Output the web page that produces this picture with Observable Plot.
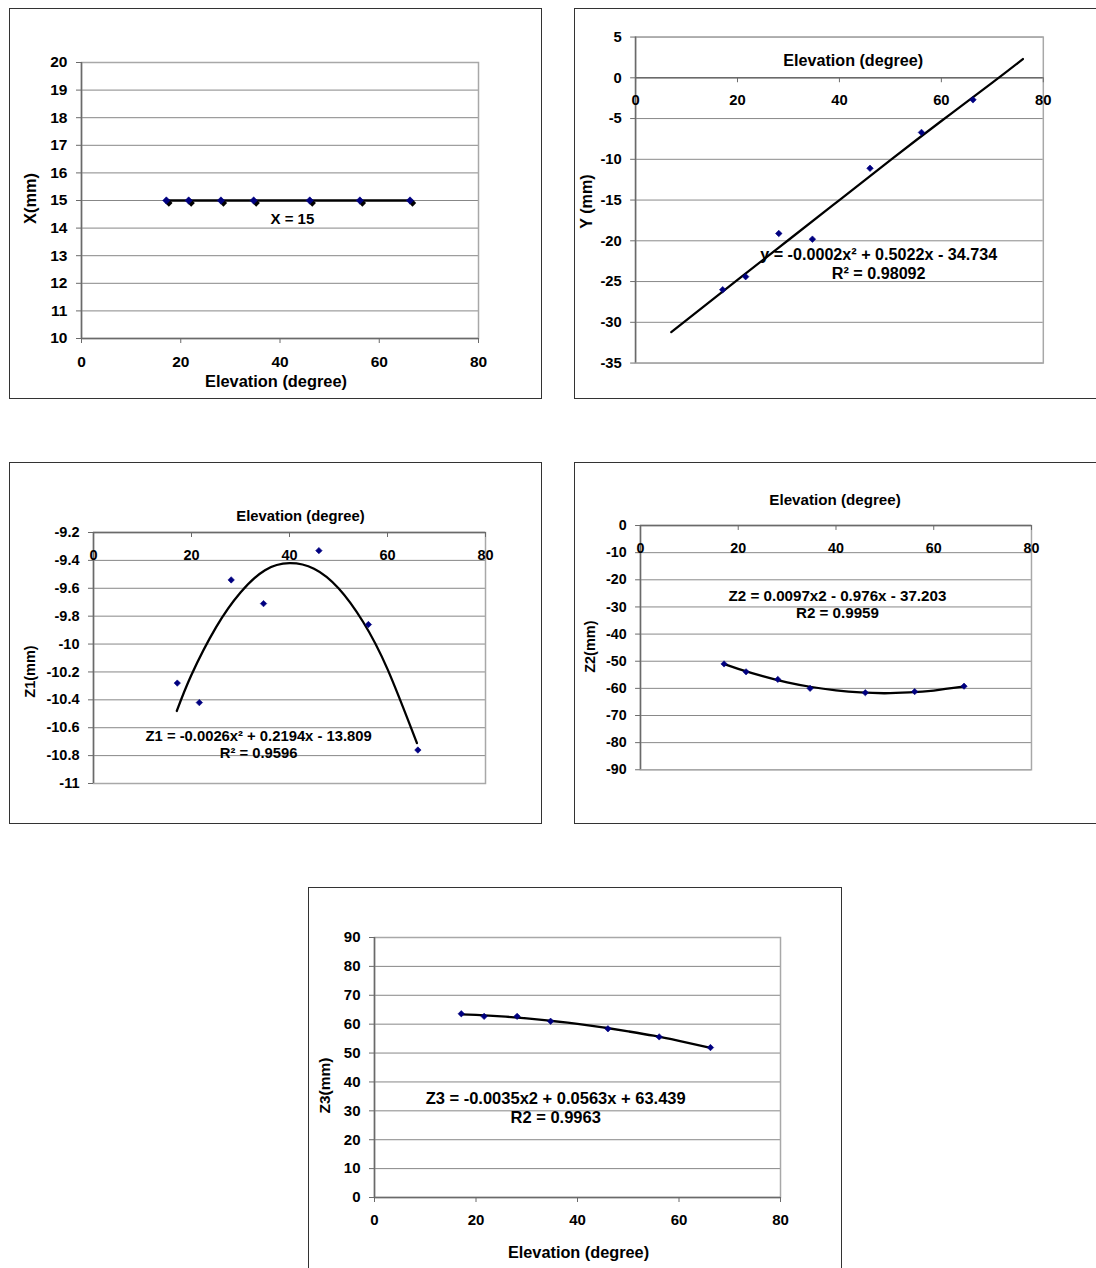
<!DOCTYPE html>
<html>
<head>
<meta charset="utf-8">
<script src="https://cdn.jsdelivr.net/npm/d3@7"></script>
<script src="https://cdn.jsdelivr.net/npm/@observablehq/plot@0.6"></script>
<style>
  html, body { margin: 0; padding: 0; background: #fff; overflow: hidden; width: 1096px; height: 1268px; }
  .panel { position: absolute; }
  .panel svg { display: block; }
  .box { position: absolute; border: 1px solid #333; box-sizing: border-box; pointer-events: none; }
</style>
</head>
<body>
<script>
// ---------- data ----------
const elevation = [17.1, 21.6, 28.1, 34.7, 46.0, 56.1, 66.2];
const xMM  = [15, 15, 15, 15, 15, 15, 15];
const yMM  = [-26.0, -24.4, -19.1, -19.8, -11.1, -6.7, -2.7];
const z1MM = [-10.28, -10.42, -9.54, -9.71, -9.33, -9.86, -10.76];
const z2MM = [-51.0, -53.9, -56.7, -60.0, -61.6, -61.2, -59.2];
const z3MM = [63.6, 62.7, 62.7, 61.0, 58.4, 55.6, 51.9];

// trend lines
const xTrendElev  = [17.1, 66.2];
const xTrendVal   = [15, 15];
const yTrendElev  = [7, 20, 30, 40, 50, 60, 70, 76];
const yTrendVal   = [-31.2, -24.8, -19.9, -15.0, -10.1, -5.3, -0.6, 2.3];
const z1TrendElev = [17, 20, 25, 30, 35, 40, 45, 50, 55, 60, 66];
const z1TrendVal  = [-10.48, -10.22, -9.88, -9.63, -9.47, -9.42, -9.46, -9.60, -9.84, -10.18, -10.71];
const z2TrendElev = [17, 20, 25, 30, 35, 40, 45, 50, 55, 60, 66];
const z2TrendVal  = [-51.0, -52.8, -55.5, -57.8, -59.5, -60.7, -61.5, -61.8, -61.5, -60.8, -59.4];
const z3TrendElev = [17, 20, 25, 30, 35, 40, 45, 50, 55, 60, 66];
const z3TrendVal  = [63.4, 63.2, 62.7, 62.0, 61.1, 60.1, 58.9, 57.5, 56.0, 54.2, 51.9];

// ticks and texts
const xTicks  = [0, 20, 40, 60, 80];
const yTicks1 = [10, 11, 12, 13, 14, 15, 16, 17, 18, 19, 20];
const yTicks2 = [5, 0, -5, -10, -15, -20, -25, -30, -35];
const yTicks3 = [-9.2, -9.4, -9.6, -9.8, -10, -10.2, -10.4, -10.6, -10.8, -11];
const yTicks4 = [0, -10, -20, -30, -40, -50, -60, -70, -80, -90];
const yTicks5 = [0, 10, 20, 30, 40, 50, 60, 70, 80, 90];
const xTitle = "Elevation (degree)";
const yTitles = ["X(mm)", "Y (mm)", "Z1(mm)", "Z2(mm)", "Z3(mm)"];
const equations = [
  "X = 15",
  "y = -0.0002x² + 0.5022x - 34.734\nR² = 0.98092",
  "Z1 = -0.0026x² + 0.2194x - 13.809\nR² = 0.9596",
  "Z2 = 0.0097x2 - 0.976x - 37.203\nR2 = 0.9959",
  "Z3 = -0.0035x2 + 0.0563x + 63.439\nR2 = 0.9963"
];

// ---------- helpers ----------
const rows = (xs, vs) => xs.map((e, i) => ({e, v: vs[i]}));
const FONT = "'Liberation Sans', Arial, Helvetica, sans-serif";
const GRID = "#878787", AXIS = "#6a6a6a", BORDER = "#a8a8a8", MARK = "#000080";

function panel(cfg) {
  const {box, m, yDomain, yTicks, series, trend, cross, bottomAxis, eq, eqPos,
         yTitle, yTitleOff, xTitleOff, xTitleAnchor, fs, fsTitle, fsY, fsEq, r, shadow, lw} = cfg;
  const data = rows(elevation, series);
  const marks = [
    Plot.gridY(yTicks, {stroke: GRID, strokeOpacity: 1, strokeWidth: 1}),
    Plot.frame({stroke: BORDER, strokeWidth: 1.5}),
    Plot.ruleX([0], {stroke: AXIS, strokeWidth: 1.5}),
    Plot.axisY(yTicks, {anchor: "left", tickSize: 5, tickPadding: 9, stroke: AXIS,
      tickFormat: d => String(d), fontSize: fs, label: null})
  ];
  if (bottomAxis) {
    marks.push(
      Plot.ruleY([yDomain[0]], {stroke: AXIS, strokeWidth: 1.5}),
      Plot.axisX(xTicks, {anchor: "bottom", tickSize: 5, tickPadding: 12, stroke: AXIS,
        tickFormat: d => String(d), fontSize: fs, label: null})
    );
  } else {
    marks.push(
      Plot.ruleY([cross], {stroke: AXIS, strokeWidth: 1.5}),
      Plot.ruleX(xTicks, {y1: cross, y2: cross, insetTop: 0, insetBottom: -5, stroke: AXIS, strokeWidth: 1}),
      Plot.text(xTicks, {x: d => d, y: cross, dy: 23, text: d => String(d), fontSize: fs})
    );
  }
  if (shadow) {
    marks.push(Plot.dot(data, {x: "e", y: "v", symbol: "diamond2", r, fill: "black", dx: 2.5, dy: 2.5}));
  }
  marks.push(
    Plot.line(rows(trend[0], trend[1]), {x: "e", y: "v", curve: "natural", stroke: "black", strokeWidth: lw}),
    Plot.dot(data, {x: "e", y: "v", symbol: "diamond2", r, fill: MARK, stroke: MARK, strokeWidth: 0.6}),
    Plot.text([eq], {x: eqPos[0], y: eqPos[1], text: d => d, fontSize: fsEq, lineHeight: 1.16,
      textAnchor: "middle", lineAnchor: "middle"}),
    Plot.text([xTitle], {frameAnchor: xTitleAnchor, dx: xTitleOff[0], dy: xTitleOff[1], text: d => d,
      fontSize: fsTitle, textAnchor: "middle", lineAnchor: "middle"}),
    Plot.text([yTitle], {frameAnchor: "left", rotate: -90, dx: yTitleOff[0], dy: yTitleOff[1], text: d => d,
      fontSize: fsY, textAnchor: "middle", lineAnchor: "middle"})
  );
  const chart = Plot.plot({
    width: box.w, height: box.h,
    marginLeft: m.l, marginRight: m.r, marginTop: m.t, marginBottom: m.b,
    x: {domain: [0, 80], axis: null},
    y: {domain: yDomain, axis: null},
    style: {fontFamily: FONT, fontWeight: "bold", background: "white", color: "black", overflow: "visible"},
    marks
  });
  const holder = document.createElement("div");
  holder.className = "panel";
  holder.style.left = box.x + "px"; holder.style.top = box.y + "px";
  holder.appendChild(chart);
  document.body.appendChild(holder);
  const b = document.createElement("div");
  b.className = "box";
  b.style.left = box.x + "px"; b.style.top = box.y + "px";
  b.style.width = box.w + "px"; b.style.height = box.h + "px";
  document.body.appendChild(b);
}

// Panel 1: X
panel({box: {x: 9, y: 8, w: 533, h: 391}, m: {l: 72, r: 64, t: 54, b: 61},
  yDomain: [10, 20], yTicks: yTicks1, series: xMM, trend: [xTrendElev, xTrendVal],
  bottomAxis: true, eq: equations[0], eqPos: [42.5, 14.35],
  yTitle: yTitles[0], yTitleOff: [-51, -2], xTitleAnchor: "bottom", xTitleOff: [-4, 43],
  fs: 15.5, fsTitle: 16.4, fsY: 16.4, fsEq: 15, r: 3.3, shadow: true, lw: 2.6});

// Panel 2: Y
panel({box: {x: 574, y: 8, w: 530, h: 391}, m: {l: 62, r: 54, t: 29, b: 31},
  yDomain: [-35, 5], yTicks: yTicks2, series: yMM, trend: [yTrendElev, yTrendVal],
  cross: 0, eq: equations[1], eqPos: [47.7, -22.8],
  yTitle: yTitles[1], yTitleOff: [-49, 1.5], xTitleAnchor: "top", xTitleOff: [14, 24],
  fs: 15, fsTitle: 16.4, fsY: 16.4, fsEq: 16.4, r: 3.0, lw: 2.3});

// Panel 3: Z1
panel({box: {x: 9, y: 462, w: 533, h: 362}, m: {l: 84, r: 57, t: 70, b: 41},
  yDomain: [-11, -9.2], yTicks: yTicks3, series: z1MM, trend: [z1TrendElev, z1TrendVal],
  cross: -9.2, eq: equations[2], eqPos: [33.7, -10.714],
  yTitle: yTitles[2], yTitleOff: [-63, 13.5], xTitleAnchor: "top", xTitleOff: [11, -16],
  fs: 14.5, fsTitle: 14.8, fsY: 14.5, fsEq: 14.8, r: 2.9, lw: 2.3});

// Panel 4: Z2
panel({box: {x: 574, y: 462, w: 530, h: 362}, m: {l: 67, r: 66, t: 64, b: 50},
  yDomain: [-90, 0], yTicks: yTicks4, series: z2MM, trend: [z2TrendElev, z2TrendVal],
  cross: 0, eq: equations[3], eqPos: [40.3, -28.8],
  yTitle: yTitles[3], yTitleOff: [-51, -1], xTitleAnchor: "top", xTitleOff: [-1, -26],
  fs: 14.5, fsTitle: 15.4, fsY: 14.7, fsEq: 15.4, r: 2.9, lw: 2.3});

// Panel 5: Z3
panel({box: {x: 308, y: 887, w: 534, h: 390}, m: {l: 66, r: 62, t: 50, b: 80},
  yDomain: [0, 90], yTicks: yTicks5, series: z3MM, trend: [z3TrendElev, z3TrendVal],
  bottomAxis: true, eq: equations[4], eqPos: [35.7, 31.3],
  yTitle: yTitles[4], yTitleOff: [-49, 18], xTitleAnchor: "bottom", xTitleOff: [1, 55],
  fs: 15, fsTitle: 16.3, fsY: 15.5, fsEq: 16.5, r: 2.9, lw: 2.3});
</script>
</body>
</html>
